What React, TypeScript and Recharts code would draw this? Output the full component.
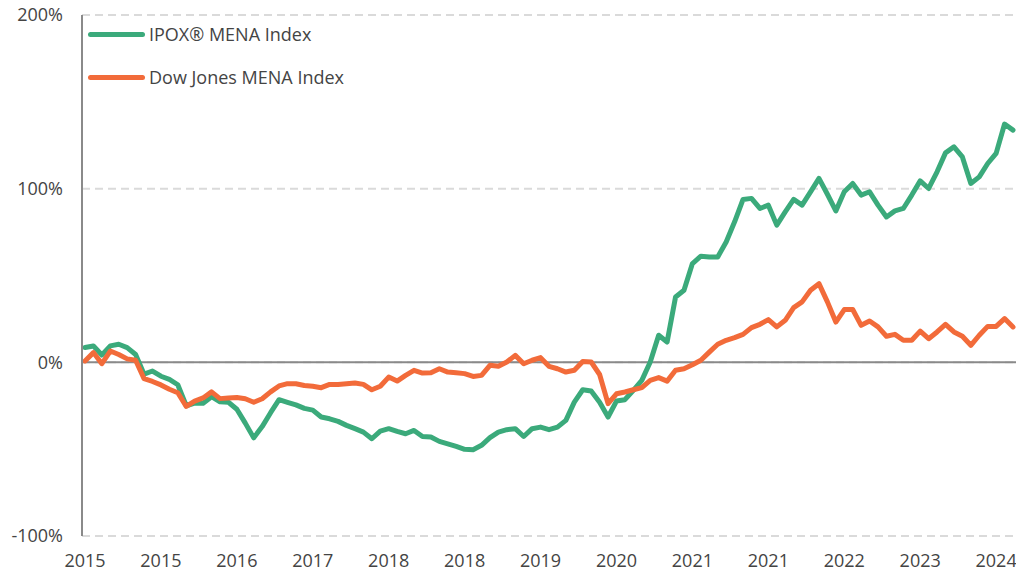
import { LineChart, Line, XAxis, YAxis, CartesianGrid, ReferenceLine } from 'recharts';

// monthly cumulative return (%) since Jan 2015
const ipoxMena = [
  8.5, 9.4, 4.2, 9.5, 10.4, 8.5, 4.5, -6.8, -5.0, -8.0, -9.8, -12.9, -25, -23.5, -23.5, -19.8,
  -22.7, -23, -27, -35, -43.5, -37, -29, -21.5, -23, -24.5, -26.5, -27.5, -31.5, -32.5, -34,
  -36.3, -38.2, -40.2, -44, -39.6, -38.2, -39.8, -41.1, -39.2, -42.7, -43, -45.5, -46.9, -48.4,
  -50.1, -50.3, -47.8, -43.4, -40.2, -38.8, -38.2, -42.7, -38.2, -37.3, -38.8, -37.3, -33.4,
  -22.9, -15.8, -16.5, -23,
  -31.5, -22.3, -21.5, -16.1, -10.4, 0.2, 15.6, 11.7, 37.6, 41.5, 56.9, 61.1, 60.7, 60.7, 69.3,
  80.9, 93.8, 94.4, 88.6, 90.5, 79, 86.6, 93.8,
  90.5, 98.2, 105.9, 96.8, 87.2, 98.2, 103, 96.3, 98.2, 90.5, 83.7, 87.2, 88.6, 96.3, 104.5,
  100.1, 109.7, 120.6, 124.1, 118.3, 103, 106.8, 114.5, 120.3, 137.2, 133.7,
];

const dowJonesMena = [
  0.8, 5.6, -0.8, 6.5, 4.5, 2, 1.2, -9.4, -11, -13, -15.5, -17.5, -25.4, -22.3, -20.5, -17,
  -20.9, -20.5, -20.2, -21, -23, -21, -17, -13.6, -12.3, -12.3, -13.3, -13.8, -14.6, -12.7, -12.7,
  -12.3, -11.9, -12.7, -15.8, -13.8, -8.5, -10.8, -7.5, -4.6, -6.2, -6.0, -3.7, -5.6, -6.0,
  -6.5, -8.1, -7.5, -1.7, -2.3, 0.2, 4.0, -0.8, 1.2, 2.7, -2.3, -3.7, -5.6, -4.6, 0.5, 0.2, -7,
  -23.8, -18.1, -17.1, -15.8, -14.6, -10.4, -8.8, -10.8, -4.6, -3.7, -1.4, 1.2, 5.9, 10.4, 12.7,
  14.2, 16.1, 20, 21.9, 24.6, 20.4, 24.2, 31.5,
  34.8, 41.5, 45.3, 34.8, 23.2, 30.4, 30.4, 21.3, 23.8, 20.4, 15, 16.1, 12.7, 12.7, 18, 13.6,
  17.5, 21.9, 17.5, 15, 9.8, 15.6, 20.7, 20.7, 25.2, 20.4,
];

const START_YEAR = 2015;
const yTicks = [-100, 0, 100, 200];

const GREEN = '#3BAA7B';
const ORANGE = '#F26B3A';
const TEXT = '#444444';

const months = ipoxMena.map(
  (_, i) => `${START_YEAR + Math.floor(i / 12)}-${String((i % 12) + 1).padStart(2, '0')}`
);

const data = months.map((month, i) => ({
  month,
  ipox: ipoxMena[i],
  dowJones: dowJonesMena[i],
}));

const legendItems = [
  { label: 'IPOX® MENA Index', color: GREEN, top: 22 },
  { label: 'Dow Jones MENA Index', color: ORANGE, top: 65 },
];

export default function App() {
  return (
    <div style={{ position: 'absolute', left: 0, top: 0, width: 1016, height: 573, fontFamily: '"Open Sans", sans-serif' }}>
      <LineChart width={1016} height={573} data={data} margin={{ top: 15, right: 0, bottom: 0, left: 0 }}>
        <CartesianGrid vertical={false} stroke="#dadada" strokeWidth={2} strokeDasharray="8 5" />
        <XAxis
          dataKey="month"
          interval={8}
          tickLine={false}
          axisLine={false}
          tickSize={16}
          tickMargin={2}
          height={37}
          padding={{ left: 3, right: 3 }}
          tickFormatter={(v: string) => v.slice(0, 4)}
          tick={{ fill: TEXT, fontSize: 18 }}
        />
        <YAxis
          domain={[-100, 200]}
          ticks={yTicks}
          width={82}
          tickLine={false}
          tickSize={17}
          tickMargin={2}
          axisLine={{ stroke: '#8a8a8a', strokeWidth: 2 }}
          tickFormatter={(v: number) => `${v}%`}
          tick={{ fill: TEXT, fontSize: 18 }}
        />
        <ReferenceLine y={0} stroke="#8a8a8a" strokeWidth={2} />
        <Line
          type="linear"
          dataKey="ipox"
          stroke={GREEN}
          strokeWidth={5}
          strokeLinejoin="round"
          strokeLinecap="round"
          dot={false}
          isAnimationActive={false}
        />
        <Line
          type="linear"
          dataKey="dowJones"
          stroke={ORANGE}
          strokeWidth={5}
          strokeLinejoin="round"
          strokeLinecap="round"
          dot={false}
          isAnimationActive={false}
        />
      </LineChart>
      {legendItems.map((item) => (
        <div
          key={item.label}
          style={{ position: 'absolute', left: 88, top: item.top, display: 'flex', alignItems: 'center', fontSize: 18, color: TEXT }}
        >
          <span style={{ display: 'inline-block', width: 57, height: 5, borderRadius: 3, background: item.color, marginRight: 4 }} />
          <span>{item.label}</span>
        </div>
      ))}
    </div>
  );
}
